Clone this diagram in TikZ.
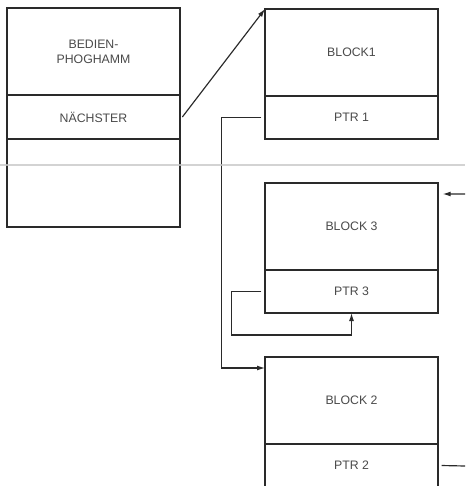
\documentclass[tikz,border=0pt]{standalone}
\usepackage{fontspec}
\setmainfont{Liberation Sans}
\usetikzlibrary{arrows.meta,positioning,calc}
\definecolor{paper}{HTML}{FFFFFF}
\definecolor{ink}{HTML}{2A2A2A}
\definecolor{label}{HTML}{4A4A4A}
\definecolor{fold}{HTML}{C8C8C8}
\newcommand{\BoxW}{5.19cm}
\newcommand{\BodyH}{2.61cm}
\newcommand{\PtrH}{1.29cm}
\newcommand{\BlockX}{265}

\begin{document}
\begin{tikzpicture}[
    x=0.03cm, y=-0.03cm,
    font=\fontsize{10.5}{13}\selectfont, ink,
    cell/.style={draw=ink, line width=1.3pt, fill=paper, minimum width=\BoxW, inner sep=2pt, outer sep=0pt, align=center, text=label},
    body/.style={cell, minimum height=\BodyH},
    ptrcell/.style={cell, minimum height=\PtrH},
    edge/.style={-{Latex[length=2.4mm,width=1.5mm]}, line width=1pt, draw=ink},
    wire/.style={line width=1pt, draw=ink},
  ]
\useasboundingbox (0,0) rectangle (465,487);

% --- Program frame -------------------------------------------------------------
\node[body, anchor=north west] (prog) at (7,8) {BEDIEN-\\PHOGHAMM};
\node[ptrcell, below=0pt of prog, minimum height=1.32cm] (next) {NÄCHSTER};
\node[body, below=0pt of next, minimum height=2.64cm] (free) {};

% --- The three blocks ------------------------------------------------------------
\foreach \name/\txt/\ptr/\top in {blk1/BLOCK1/PTR 1/9, blk3/BLOCK 3/PTR 3/183, blk2/BLOCK 2/PTR 2/357} {
  \node[body, anchor=north west] (\name) at (\BlockX,\top) {\txt};
  \node[ptrcell, below=0pt of \name] (\name p) {\ptr};
}

% --- Free ends at the border -------------------------------------------------------
\coordinate (in3) at (465,194);
\coordinate (out2) at (465,466);

% --- Pointers ------------------------------------------------------------------------
\draw[edge] ([xshift=2pt]next.east) -- (blk1.north west);
\draw[edge] ([xshift=-3pt]blk1p.west) -- ++(-40,0) |- ([yshift=-0.33cm]blk2.north west);
\draw[edge] ([xshift=-3pt]blk3p.west) -- ++(-30,0) |- ($(blk3p.south)+(0,22)$) -- (blk3p.south);
\draw[edge] (in3) -- ([xshift=4pt,yshift=-0.33cm]blk3.north east);
\draw[wire] ([xshift=3pt]blk2p.east) -- (out2);

% --- Page edge cuts the last block, fold line of the scan ---------------------------
\fill[paper] (0,486) rectangle (465,490);
\draw[fold, line width=1.6pt, opacity=0.8] (0,165) -- (465,165);

\end{tikzpicture}
\end{document}
